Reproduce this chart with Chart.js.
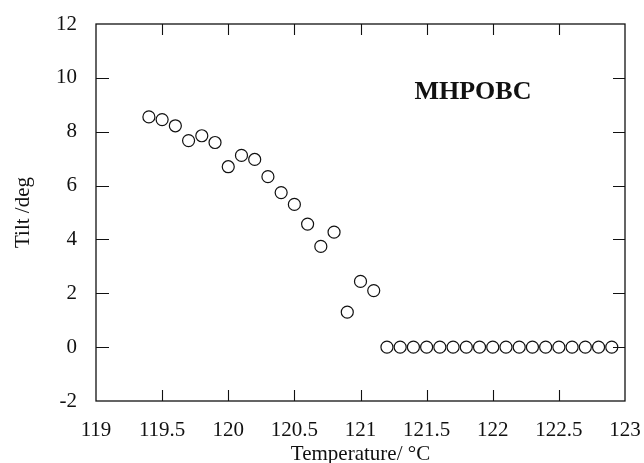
<!DOCTYPE html>
<html>
<head>
<meta charset="utf-8">
<script src="https://cdn.jsdelivr.net/npm/chart.js@4/dist/chart.umd.min.js"></script>
<style>
html,body{margin:0;padding:0;background:#fff;}
#wrap{width:644px;height:463px;}
</style>
</head>
<body>
<div id="wrap"><canvas id="c" width="644" height="463"></canvas></div>
<script>
const temperatures = [119.4,119.5,119.6,119.7,119.8,119.9,120.0,120.1,120.2,120.3,120.4,120.5,120.6,120.7,120.8,120.9,121.0,121.1,
  121.2,121.3,121.4,121.5,121.6,121.7,121.8,121.9,122.0,122.1,122.2,122.3,122.4,122.5,122.6,122.7,122.8,122.9];
const tiltValues = [8.55,8.45,8.22,7.67,7.85,7.6,6.7,7.12,6.97,6.33,5.74,5.3,4.57,3.74,4.27,1.3,2.44,2.1,
  0,0,0,0,0,0,0,0,0,0,0,0,0,0,0,0,0,0];
const xTickValues = [119,119.5,120,120.5,121,121.5,122,122.5,123];
const xTickLabels = ['119','119.5','120','120.5','121','121.5','122','122.5','123'];
const yTickValues = [-2,0,2,4,6,8,10,12];
const yTickLabels = ['-2','0','2','4','6','8','10','12'];
const annotationText = 'MHPOBC';
const annotationPos = {x:121.85, y:9.45};
const xTitle = 'Temperature/ \u00B0C';
const yTitle = 'Tilt /deg';

const points = temperatures.map((t,i)=>({x:t,y:tiltValues[i]}));
const FONT = '"Liberation Serif", "Times New Roman", serif';

const framePlugin = {
  id:'frame',
  afterDatasetsDraw(chart){
    const {ctx, chartArea:a, scales:{x,y}} = chart;
    ctx.save();
    ctx.strokeStyle = '#111';
    ctx.lineWidth = 1.3;
    ctx.strokeRect(a.left, a.top, a.right-a.left, a.bottom-a.top);
    ctx.lineWidth = 1.1;
    ctx.beginPath();
    xTickValues.forEach(v=>{
      if (v<=x.min || v>=x.max) return;
      const px = Math.round(x.getPixelForValue(v))+0.5;
      ctx.moveTo(px,a.bottom); ctx.lineTo(px,a.bottom-11);
      ctx.moveTo(px,a.top); ctx.lineTo(px,a.top+11);
    });
    yTickValues.forEach(v=>{
      if (v<=y.min || v>=y.max) return;
      const py = Math.round(y.getPixelForValue(v))+0.5;
      ctx.moveTo(a.left,py); ctx.lineTo(a.left+13,py);
      ctx.moveTo(a.right,py); ctx.lineTo(a.right-12,py);
    });
    ctx.stroke();
    ctx.fillStyle = '#111';
    ctx.font = 'bold 26px ' + FONT;
    ctx.textAlign = 'center';
    ctx.textBaseline = 'middle';
    ctx.fillText(annotationText, x.getPixelForValue(annotationPos.x), y.getPixelForValue(annotationPos.y));
    ctx.restore();
  }
};

new Chart(document.getElementById('c'), {
  type:'scatter',
  data:{datasets:[{
    data:points,
    pointStyle:'circle',
    pointRadius:6,
    pointBorderWidth:1.2,
    pointBorderColor:'#111',
    pointBackgroundColor:'rgba(255,255,255,0)',
    showLine:false
  }]},
  options:{
    responsive:false,
    animation:false,
    devicePixelRatio:1,
    layout:{padding:{top:24,right:19,left:0,bottom:0}},
    plugins:{legend:{display:false},tooltip:{enabled:false}},
    scales:{
      x:{
        type:'linear', min:119, max:123,
        afterBuildTicks(s){ s.ticks = xTickValues.map(v=>({value:v})); },
        afterFit(s){ s.height = 62; s.paddingLeft = 0; s.paddingRight = 0; },
        grid:{display:false, drawTicks:false},
        border:{display:false},
        ticks:{
          padding:17, color:'#111', maxRotation:0, autoSkip:false,
          font:{family:FONT,size:21},
          callback:(v)=>{const i=xTickValues.indexOf(v); return i>=0?xTickLabels[i]:'';}
        },
        title:{display:true,text:xTitle,color:'#111',font:{family:FONT,size:21},padding:{top:0,bottom:-4}}
      },
      y:{
        type:'linear', min:-2, max:12,
        afterBuildTicks(s){ s.ticks = yTickValues.map(v=>({value:v})); },
        afterFit(s){ s.width = 96; s.paddingTop = 0; s.paddingBottom = 0; },
        grid:{display:false, drawTicks:false},
        border:{display:false},
        ticks:{
          padding:19, color:'#111', autoSkip:false,
          font:{family:FONT,size:21},
          callback:(v)=>{const i=yTickValues.indexOf(v); return i>=0?yTickLabels[i]:'';}
        },
        title:{display:true,text:yTitle,color:'#111',font:{family:FONT,size:21},padding:{top:11,bottom:0}}
      }
    }
  },
  plugins:[framePlugin]
});
</script>
</body>
</html>
